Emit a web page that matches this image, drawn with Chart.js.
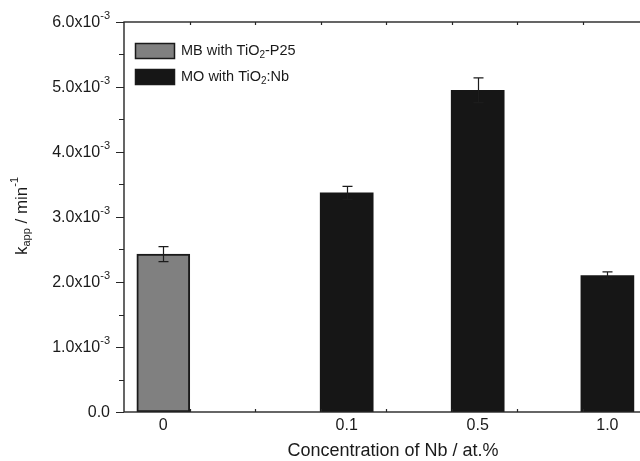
<!DOCTYPE html>
<html>
<head>
<meta charset="utf-8">
<script src="https://cdn.jsdelivr.net/npm/chart.js@4.4.1/dist/chart.umd.min.js"></script>
<style>
html,body{margin:0;padding:0;overflow:hidden;background:#fff;}
canvas{display:block;}
</style>
</head>
<body>
<canvas id="c" width="660" height="461"></canvas>
<script>
// ---- data ----
const categories = ['0', '0.1', '0.5', '1.0'];
const mbValues = [2.43e-3, null, null, null];        // MB with TiO2-P25
const moValues = [null, 3.37e-3, 4.95e-3, 2.10e-3];  // MO with TiO2:Nb
const errValues = [0.115e-3, 0.10e-3, 0.19e-3, 0.055e-3];
const yTickValues = [0, 1e-3, 2e-3, 3e-3, 4e-3, 5e-3, 6e-3];
const yTickLabels = ['0.0', '1.0x10^-3', '2.0x10^-3', '3.0x10^-3', '4.0x10^-3', '5.0x10^-3', '6.0x10^-3'];
const seriesNames = ['MB with TiO_2-P25', 'MO with TiO_2:Nb'];

// ---- layout (axis units of the linear x scale where each category sits) ----
const xSlots = [0.6, 3.4, 5.4, 7.38];

const FONT = "'Liberation Sans', Arial, sans-serif";
const GRAY = '#808080', BLACK = '#161616', AXIS = '#262626';

function drawRich(ctx, parts, x, y, align) {
  let total = 0;
  parts.forEach(p => { ctx.font = p.size + 'px ' + FONT; p.w = ctx.measureText(p.t).width; total += p.w; });
  let cx = align === 'right' ? x - total : align === 'center' ? x - total / 2 : x;
  parts.forEach(p => { ctx.font = p.size + 'px ' + FONT; ctx.textAlign = 'left'; ctx.fillText(p.t, cx, y + (p.dy || 0)); cx += p.w; });
}
function subParts(str, size) {
  const out = [];
  const re = /(_|\^)(-?\w)/g;
  let last = 0, m;
  while ((m = re.exec(str))) {
    if (m.index > last) out.push({ t: str.slice(last, m.index), size });
    out.push({ t: m[2], size: Math.round(size * 0.66), dy: m[1] === '_' ? 4 : -7 });
    last = re.lastIndex;
  }
  if (last < str.length) out.push({ t: str.slice(last), size });
  return out;
}

const decor = {
  id: 'decor',
  afterDatasetsDraw(chart) {
    const { ctx, chartArea: { left, right, top, bottom }, scales: { x, y } } = chart;
    ctx.save();
    // error bars
    ctx.strokeStyle = '#1c1c1c';
    ctx.lineWidth = 1.2;
    categories.forEach((c, i) => {
      const v = mbValues[i] != null ? mbValues[i] : moValues[i];
      const px = Math.round(x.getPixelForValue(xSlots[i])) + 0.5;
      const yt = y.getPixelForValue(v + errValues[i]);
      const yb = y.getPixelForValue(v - errValues[i]);
      ctx.beginPath();
      ctx.moveTo(px, yt); ctx.lineTo(px, yb);
      ctx.moveTo(px - 5, yt); ctx.lineTo(px + 5, yt);
      ctx.moveTo(px - 5, yb); ctx.lineTo(px + 5, yb);
      ctx.stroke();
    });
    // frame
    ctx.strokeStyle = AXIS;
    ctx.lineWidth = 1.4;
    ctx.strokeRect(left, top, right - left, bottom - top);
    // y ticks (outward) major + minor
    ctx.lineWidth = 1.2;
    ctx.beginPath();
    for (let v = 0; v <= 6e-3 + 1e-9; v += 0.5e-3) {
      const py = Math.round(y.getPixelForValue(v)) + 0.5;
      const major = Math.abs(Math.round(v / 1e-3) * 1e-3 - v) < 1e-9;
      const len = major ? 8 : 5;
      ctx.moveTo(left, py); ctx.lineTo(left - len, py);
      ctx.moveTo(right, py); ctx.lineTo(right + len, py);
    }
    // x ticks (inward, small)
    for (let u = 1; u < 8; u++) {
      const px = Math.round(x.getPixelForValue(u)) + 0.5;
      ctx.moveTo(px, top); ctx.lineTo(px, top + 3);
      ctx.moveTo(px, bottom); ctx.lineTo(px, bottom - 3);
    }
    ctx.stroke();
    // y tick labels
    ctx.fillStyle = '#1a1a1a';
    ctx.textBaseline = 'middle';
    yTickValues.forEach((v, i) => {
      const py = y.getPixelForValue(v) + 1;
      drawRich(ctx, subParts(yTickLabels[i], 16), 110, py, 'right');
    });
    // x tick labels
    categories.forEach((c, i) => {
      drawRich(ctx, [{ t: c, size: 16 }], x.getPixelForValue(xSlots[i]), 426, 'center');
    });
    // x title
    drawRich(ctx, [{ t: 'Concentration of Nb / at.%', size: 18 }], 393, 451, 'center');
    // y title
    ctx.save();
    ctx.translate(22, 216);
    ctx.rotate(-Math.PI / 2);
    drawRich(ctx, [{ t: 'k', size: 17 }, { t: 'app', size: 11, dy: 5 }, { t: ' / min', size: 17 }, { t: '-1', size: 11, dy: -7 }], 0, 0, 'center');
    ctx.restore();
    // legend
    const items = [{ fill: GRAY, y: 43 }, { fill: BLACK, y: 69 }];
    items.forEach((it, i) => {
      ctx.fillStyle = it.fill;
      ctx.fillRect(135, it.y, 40, 16);
      ctx.strokeStyle = '#1a1a1a';
      ctx.lineWidth = 1.5;
      ctx.strokeRect(135.5, it.y + 0.5, 39, 15);
      ctx.fillStyle = '#1a1a1a';
      drawRich(ctx, subParts(seriesNames[i], 14.5), 181, it.y + 8, 'left');
    });
    ctx.restore();
  }
};

const toXY = arr => arr.map((v, i) => v == null ? null : { x: xSlots[i], y: v }).filter(Boolean);

new Chart(document.getElementById('c'), {
  type: 'bar',
  data: {
    datasets: [
      { label: seriesNames[0], data: toXY(mbValues), backgroundColor: GRAY, borderColor: '#1a1a1a', borderWidth: 2, borderSkipped: false },
      { label: seriesNames[1], data: toXY(moValues), backgroundColor: BLACK, borderColor: BLACK, borderWidth: 0 }
    ]
  },
  options: {
    responsive: false,
    maintainAspectRatio: false,
    animation: false,
    layout: { padding: { left: 124, top: 22, right: 12, bottom: 49 } },
    datasets: { bar: { grouped: false, barThickness: 53 } },
    plugins: { legend: { display: false }, tooltip: { enabled: false } },
    scales: {
      x: { type: 'linear', display: false, min: 0, max: 8, offset: false },
      y: { type: 'linear', display: false, min: 0, max: 6e-3 }
    }
  },
  plugins: [decor]
});
</script>
</body>
</html>
